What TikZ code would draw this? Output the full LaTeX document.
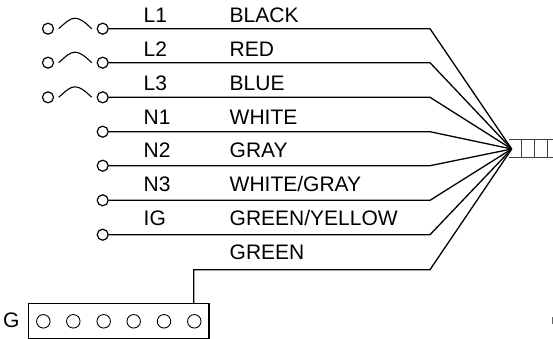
\documentclass[tikz,border=0pt]{standalone}
\usepackage{fontspec}
\setmainfont{Liberation Sans}
\tikzset{
  wire/.style={draw=black,line width=1.3pt,line join=miter},
  term/.style={circle,draw=black,line width=1.2pt,fill=white,minimum size=11pt,inner sep=0pt},
  hole/.style={circle,draw=black,line width=0.9pt,fill=white,minimum size=13.5pt,inner sep=0pt},
  lbl/.style={anchor=base west,inner sep=0pt,font=\fontsize{21}{24}\selectfont},
  fuse/.style={draw=black,line width=1.1pt},
  plugline/.style={draw=black!75,line width=1pt}
}
\begin{document}
\begin{tikzpicture}[x=1pt,y=-1pt]
\useasboundingbox (0,0) rectangle (553,339);
% plug
\draw[plugline] (509,140) -- (553,140) (509,157.7) -- (553,157.7);
\draw[plugline] (521.7,140) -- (521.7,157.7) (534.5,140) -- (534.5,157.7) (547,140) -- (547,157.7);
\draw[black!60,line width=0.8pt] (552.7,317) -- (552.7,324);
\coordinate (hub) at (511.7,149);
% terminals and wires
\foreach \n/\y in {L1/28.7,L2/62.7,L3/97.3,N1/131.7,N2/165.7,N3/200.3,IG/234.7}{
  \node[term] (r\n) at (102.7,\y) {};
  \coordinate (b\n) at (430,\y);
  \draw[wire] (r\n) -- (b\n) -- (hub);
}
\foreach \n/\y in {L1/28.7,L2/62.7,L3/97.3}{
  \node[term] (l\n) at (48,\y) {};
  \draw[fuse] (58.7,\y) .. controls (66,{\y-6.5}) and (70,{\y-10.5}) .. (75,{\y-10.5}) .. controls (80,{\y-10.5}) and (85,{\y-6.5}) .. (91.7,\y);
}
% labels
\foreach \t/\y in {L1/22.5,L2/56.5,L3/91,N1/124.8,N2/157.7,N3/191.5,IG/225.5}
  \node[lbl] at (143.5,\y) {\t};
\foreach \t/\y in {BLACK/22.5,RED/56.5,BLUE/91,WHITE/124.8,GRAY/157.7,WHITE\slash GRAY/191.5,GREEN\slash YELLOW/225.5,GREEN/259.3}
  \node[lbl] at (229.5,\y) {\t};
% ground bar
\node[draw=black,line width=1.3pt,minimum width=180.3pt,minimum height=34.6pt,inner sep=0pt] (bar) at (118.85,321) {};
\node[lbl] (glabel) at (3,327.3) {G};
\foreach \i/\x in {1/43.3,2/73.3,3/103.7,4/133.7,5/164,6/194.3}
  \node[hole] (h\i) at (\x,321.3) {};
\coordinate (gb) at (430,269.7);
\coordinate (gc) at (193.7,269.7);
\coordinate (gd) at (193.7,303.7);
\draw[wire] (hub) -- (gb) -- (gc) -- (gd);
\end{tikzpicture}
\end{document}
